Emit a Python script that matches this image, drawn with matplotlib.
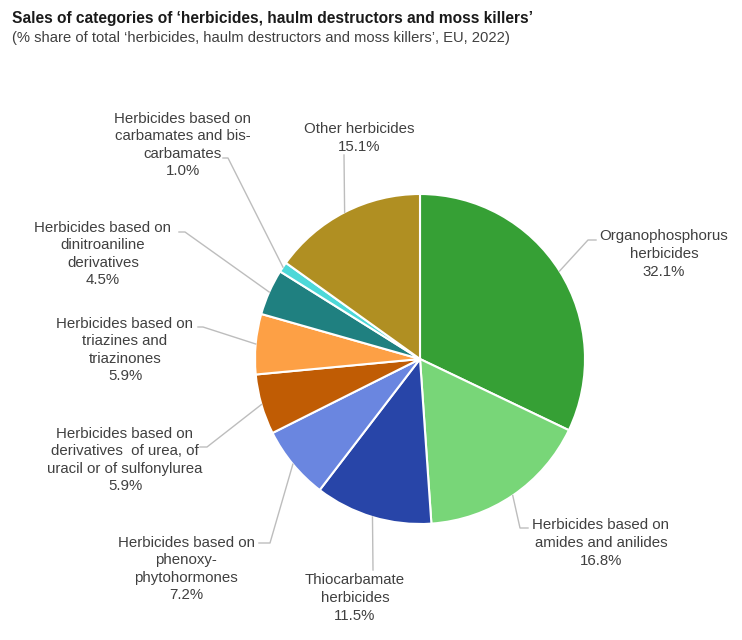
import matplotlib
matplotlib.use("Agg")
import matplotlib.pyplot as plt
import numpy as np

# -----------------------------
# Data
# -----------------------------
categories = [
    "Organophosphorus\nherbicides",
    "Herbicides based on\namides and anilides",
    "Thiocarbamate\nherbicides",
    "Herbicides based on\nphenoxy-\nphytohormones",
    "Herbicides based on\nderivatives  of urea, of\nuracil or of sulfonylurea",
    "Herbicides based on\ntriazines and\ntriazinones",
    "Herbicides based on\ndinitroaniline\nderivatives",
    "Herbicides based on\ncarbamates and bis-\ncarbamates",
    "Other herbicides",
]
shares = [32.1, 16.8, 11.5, 7.2, 5.9, 5.9, 4.5, 1.0, 15.1]

colors = [
    "#36a035",  # green
    "#78d678",  # light green
    "#2845a8",  # dark blue
    "#6a86e0",  # blue
    "#c05c04",  # dark orange
    "#fda045",  # orange
    "#1f8080",  # teal
    "#4dd8d8",  # cyan
    "#b08f22",  # olive
]

# -----------------------------
# Layout (pixels, origin top-left)
# -----------------------------
W, H = 742, 640
cx, cy, R = 420, 359, 165

# text centre (x, y) and leader path after the wedge edge
text_pos = [(664, 254), (601, 543), (355, 598), (186, 569), (125, 460),
            (125, 350), (103, 254), (183, 145), (359, 138)]
leader = [
    [(588, 240), (596, 240)],
    [(520, 528), (528, 528)],
    [(373, 570)],
    [(270, 543), (259, 543)],
    [(207, 447), (200, 447)],
    [(203, 327), (198, 327)],
    [(185, 232), (179, 232)],
    [(228, 158), (223, 158)],
    [(344, 155)],
]

plt.rcParams["font.family"] = ["Liberation Sans", "DejaVu Sans"]

fig = plt.figure(figsize=(W / 100, H / 100), dpi=100)
ax = fig.add_axes([0, 0, 1, 1])


def fy(y):
    return H - y


ax.pie(
    shares,
    colors=colors,
    startangle=90,
    counterclock=False,
    center=(cx, fy(cy)),
    radius=R,
    wedgeprops=dict(edgecolor="white", linewidth=1.5),
)
ax.set_xlim(0, W)
ax.set_ylim(0, H)
ax.set_aspect("equal")
ax.axis("off")

# labels with leader lines
cum = np.cumsum([0] + shares[:-1])
for i, (name, val) in enumerate(zip(categories, shares)):
    mid = 90 - (cum[i] + val / 2) / 100 * 360
    ex = cx + R * np.cos(np.radians(mid))
    ey = cy - R * np.sin(np.radians(mid))
    pts = [(ex, ey)] + leader[i]
    ax.plot([p[0] for p in pts], [fy(p[1]) for p in pts],
            color="#bdbdbd", linewidth=1.0, clip_on=False)
    tx, ty = text_pos[i]
    ax.text(tx, fy(ty), f"{name}\n{val:.1f}%", ha="center", va="center",
            fontsize=10.8, color="#404040", linespacing=1.32)

fig.text(12 / W, 1 - 18 / H,
         "Sales of categories of \u2018herbicides, haulm destructors and moss killers\u2019",
         fontsize=11.2, fontweight="bold", color="#1a1a1a", va="center", ha="left")
fig.text(12 / W, 1 - 38 / H,
         "(% share of total \u2018herbicides, haulm destructors and moss killers\u2019, EU, 2022)",
         fontsize=10.6, color="#404040", va="center", ha="left")

fig.savefig("out.png", dpi=100)
